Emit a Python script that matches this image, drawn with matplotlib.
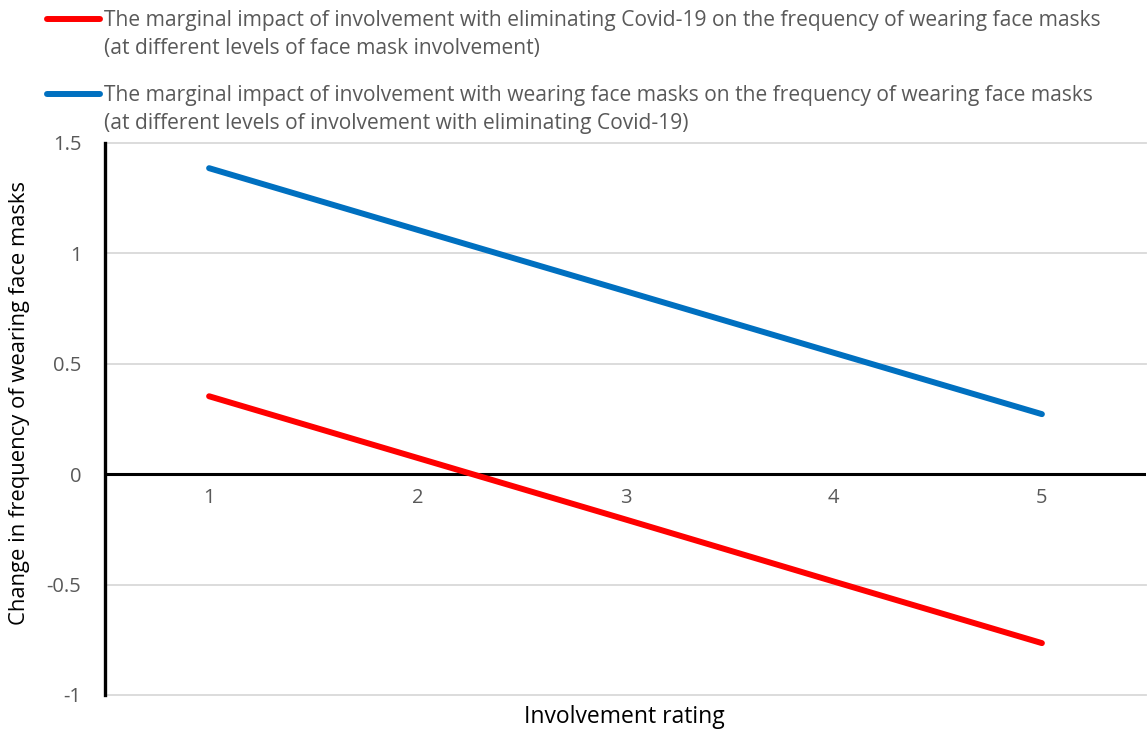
import matplotlib
matplotlib.use("Agg")
import matplotlib.pyplot as plt
from matplotlib.lines import Line2D

plt.rcParams['font.family'] = ['Open Sans', 'DejaVu Sans']

ratings = [1, 2, 3, 4, 5]
red_values = [0.353, 0.074, -0.205, -0.486, -0.765]
blue_values = [1.386, 1.107, 0.829, 0.550, 0.272]
red_label = ("The marginal impact of involvement with eliminating Covid-19 on the frequency of wearing face masks\n"
             "(at different levels of face mask involvement)")
blue_label = ("The marginal impact of involvement with wearing face masks on the frequency of wearing face masks\n"
              "(at different levels of involvement with eliminating Covid-19)")
y_ticks = [-1, -0.5, 0, 0.5, 1, 1.5]
y_tick_labels = ["-1", "-0.5", "0", "0.5", "1", "1.5"]

RED = "#FF0000"
BLUE = "#0070C0"
GRAY = "#595959"

W, H = 1148, 731
fig = plt.figure(figsize=(W / 100, H / 100), dpi=100)
ax = fig.add_axes([105 / W, 1 - 695 / H, (1146 - 105) / W, (695 - 143) / H])

ax.plot(ratings, red_values, color=RED, lw=4.3, solid_capstyle='round', zorder=3)
ax.plot(ratings, blue_values, color=BLUE, lw=4.3, solid_capstyle='round', zorder=3)

ax.set_xlim(0.5, 5.5)
ax.set_ylim(-1, 1.5)
ax.set_yticks(y_ticks)
ax.set_yticklabels(y_tick_labels)
ax.set_xticks([])
for y in y_ticks:
    if y != 0:
        ax.axhline(y, color="#D9D9D9", lw=1.3, zorder=1, clip_on=False)
ax.axhline(0, color="black", lw=2.2, zorder=2)
for x in ratings:
    ax.text(x, -0.11, str(x), ha='center', va='center', color=GRAY, fontsize=14.5)

for s in ['top', 'right', 'bottom']:
    ax.spines[s].set_visible(False)
ax.spines['left'].set_linewidth(2.4)
ax.spines['left'].set_color('black')
ax.tick_params(axis='y', length=0, pad=17, labelcolor=GRAY, labelsize=14.5)

fig.text(20 / W, 1 - 403 / H, "Change in frequency of wearing face masks", rotation=90,
         ha='center', va='center', fontsize=15.8, color='black')
fig.text(624 / W, 1 - 717 / H, "Involvement rating", ha='center', va='center',
         fontsize=16.5, color='black')

# legend
for yline, label, col in [(19, red_label, RED), (94, blue_label, BLUE)]:
    fig.add_artist(Line2D([47 / W, 100 / W], [1 - yline / H, 1 - yline / H], color=col,
                          lw=4.3, solid_capstyle='round'))
    fig.text(104 / W, 1 - (yline - 9) / H, label, ha='left', va='top', fontsize=15.1,
             color=GRAY, linespacing=1.45)

fig.savefig("out.png", dpi=100)
